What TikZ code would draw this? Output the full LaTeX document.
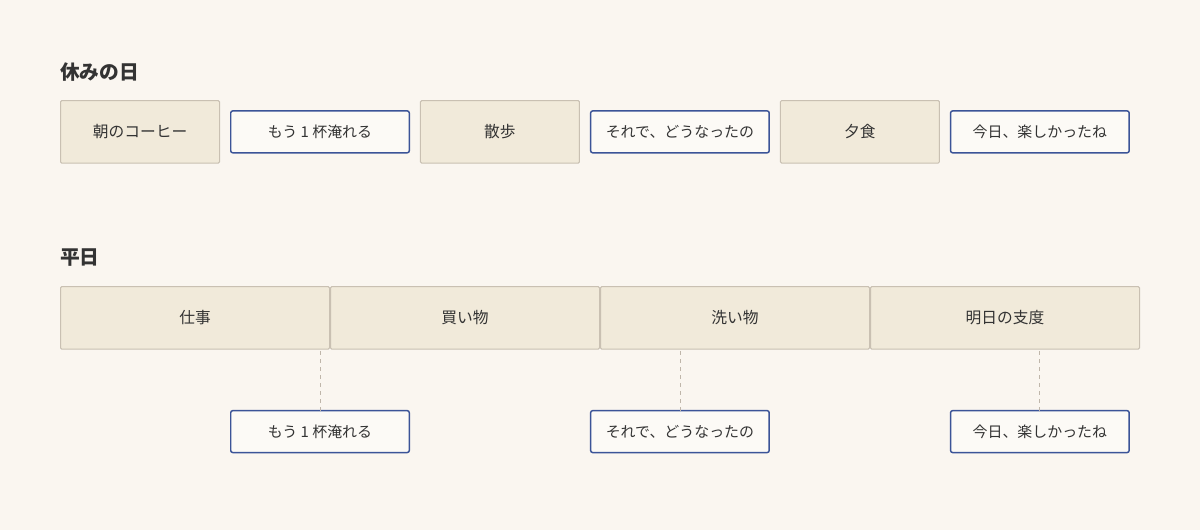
\documentclass[tikz,border=0pt]{standalone}
\usepackage{fontspec}
\setmainfont{Noto Sans CJK JP}
\usetikzlibrary{positioning}
\definecolor{paper}{HTML}{FAF6F0}
\definecolor{ink}{HTML}{333333}
\definecolor{slotfill}{HTML}{F1EADA}
\definecolor{slotline}{HTML}{C9C0B2}
\definecolor{talkline}{HTML}{3B5498}
\definecolor{tieline}{HTML}{BFB6AA}
\tikzset{
	every node/.style={text=ink, inner sep=0pt, outer sep=0pt}, % all text in dark grey
	title/.style={font=\bfseries\fontsize{14.8pt}{16pt}\selectfont, anchor=west}, % section headings
	slot/.style={draw=slotline, fill=slotfill, line width=0.75pt, rounded corners=1pt, minimum width=119.25pt, minimum height=47pt, font=\fontsize{11.8pt}{14pt}\selectfont}, % beige activity boxes
	wideslot/.style={slot, minimum width=201.75pt}, % weekday activity boxes
	talk/.style={draw=talkline, fill=paper!60!white, line width=1.1pt, rounded corners=1.5pt, minimum width=133.9pt, minimum height=31.4pt, font=\fontsize{11.2pt}{13pt}\selectfont}, % blue bordered remarks
	tie/.style={draw=tieline, line width=0.6pt, dash pattern=on 3pt off 3pt}, % dashed link to a remark
	node distance=8.4pt, % gap between boxes on the top row
}
\begin{document}
\begin{tikzpicture}
	\useasboundingbox[fill=paper] (0,0) rectangle (900pt,-397.5pt);

	% day off
	\node[title] (h1) at (45pt,-54pt) {休みの日};
	\node[slot, anchor=north west] (s1) at (45.4pt,-75.4pt) {朝のコーヒー};
	\node[talk] (t1) [right=of s1] {もう 1 杯淹れる};
	\node[slot] (s2) [right=of t1] {散歩};
	\node[talk] (t2) [right=of s2] {それで、どうなったの};
	\node[slot] (s3) [right=of t2] {夕食};
	\node[talk] (t3) [right=of s3] {今日、楽しかったね};

	% weekday
	\node[title] (h2) at (45pt,-193.5pt) {平日};
	\node[wideslot, anchor=north west] (w1) at (45.4pt,-214.9pt) {仕事};
	\node[wideslot] (w2) [right=0.75pt of w1] {買い物};
	\node[wideslot] (w3) [right=0.75pt of w2] {洗い物};
	\node[wideslot] (w4) [right=0.75pt of w3] {明日の支度};

	\node[talk, anchor=north] (u1) at (t1 |- 0,-308pt) {もう 1 杯淹れる};
	\node[talk, anchor=north] (u2) at (t2 |- 0,-308pt) {それで、どうなったの};
	\node[talk, anchor=north] (u3) at (t3 |- 0,-308pt) {今日、楽しかったね};

	\draw[tie] (u1.north) -- (u1.north |- w1.south);
	\draw[tie] (u2.north) -- (u2.north |- w3.south);
	\draw[tie] (u3.north) -- (u3.north |- w4.south);
\end{tikzpicture}
\end{document}
